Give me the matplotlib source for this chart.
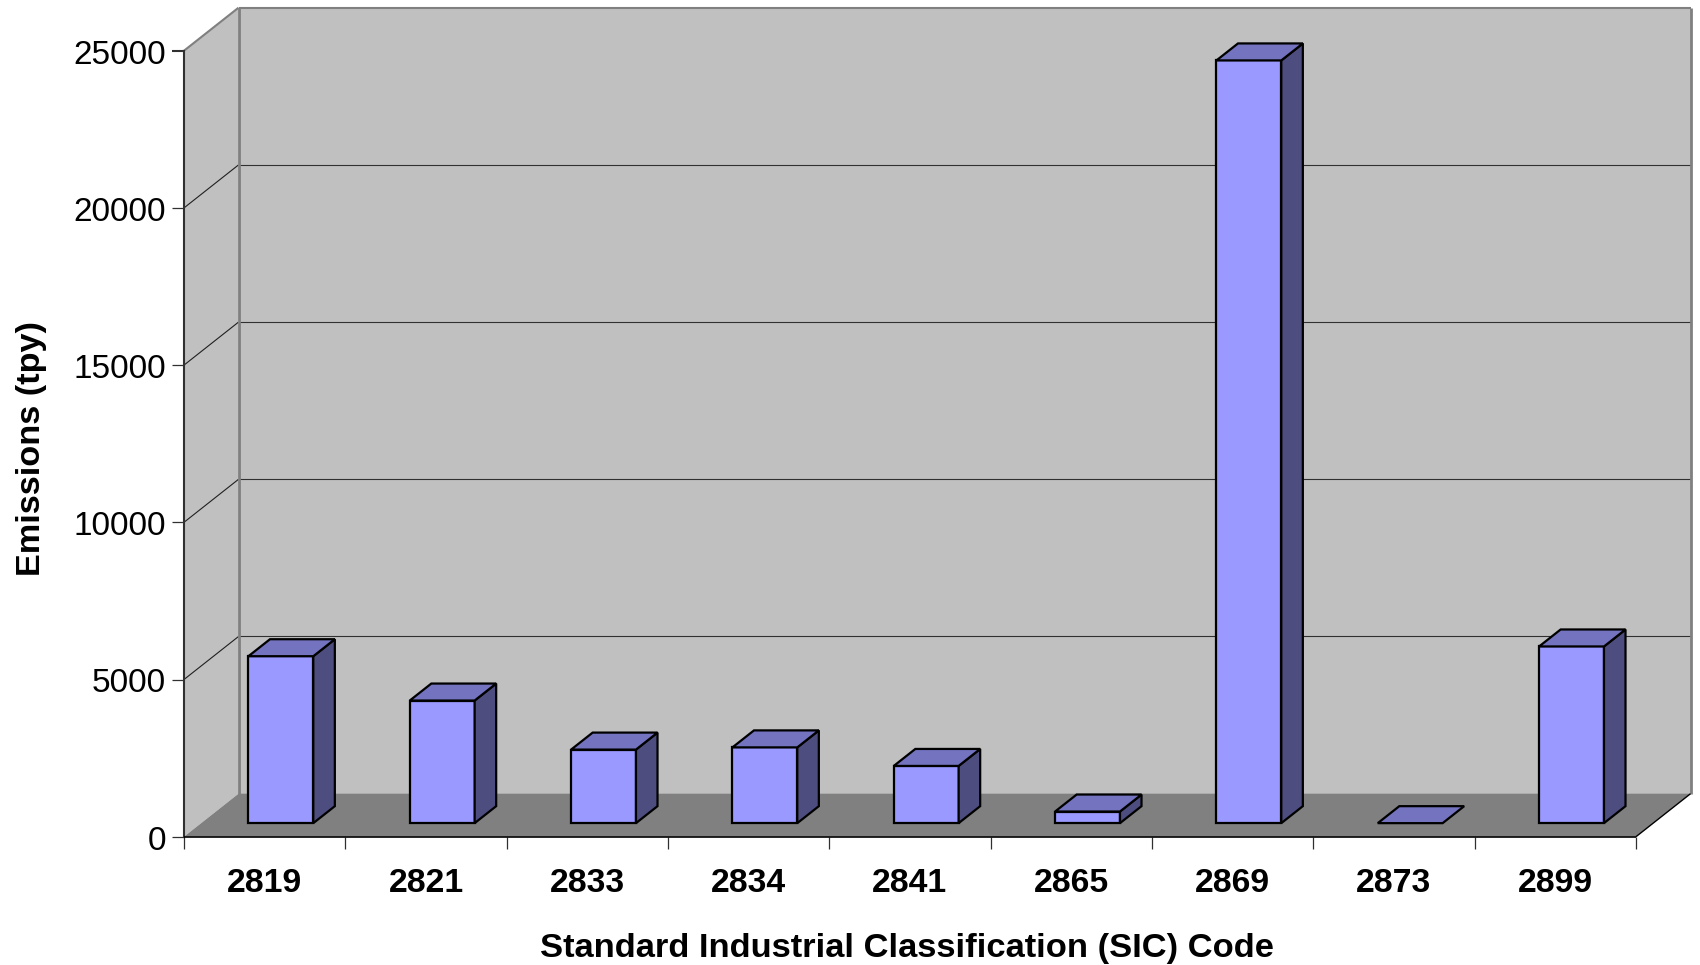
import matplotlib
matplotlib.use('Agg')
import matplotlib.pyplot as plt
from matplotlib.patches import Polygon
from matplotlib.transforms import ScaledTranslation

plt.rcParams['font.family'] = ['Liberation Sans', 'DejaVu Sans']

sic_codes = ['2819', '2821', '2833', '2834', '2841', '2865', '2869', '2873', '2899']
emissions = [5310, 3900, 2340, 2410, 1820, 370, 24260, 0, 5620]
y_ticks = [0, 5000, 10000, 15000, 20000, 25000]

WALL = '#C0C0C0'
FLOOR = '#808080'
FRONT = '#9999FF'
TOP = '#7373BF'
SIDE = '#4D4D80'

# oblique offset of the back wall, in data units (categories, tpy)
DEPTH_X = 0.338
DEPTH_Y = 1368
BAR_WIDTH = 0.402
BAR_SHIFT = -0.006
BAR_NEAR = 0.315
BAR_FAR = 0.71


def proj(x, y, d):
    return (x + d * DEPTH_X, y + d * DEPTH_Y)


def face(ax, pts, color, zorder=1, ec='none', lw=0):
    ax.add_patch(Polygon(pts, closed=True, facecolor=color, edgecolor=ec, linewidth=lw,
                         joinstyle='miter', clip_on=False, zorder=zorder))


def line(ax, p, q, color, lw, zorder=2):
    ax.plot([p[0], q[0]], [p[1], q[1]], color=color, lw=lw, clip_on=False,
            zorder=zorder, solid_capstyle='butt')


fig = plt.figure(figsize=(17, 9.65), dpi=100)
ax = fig.add_axes([184 / 1700, 1 - 836.7 / 965, (1636 - 184) / 1700, (836.7 - 50.7) / 965])
n = len(sic_codes)
ymax = y_ticks[-1]
ax.set_xlim(0, n)
ax.set_ylim(0, ymax)

# walls and floor
face(ax, [proj(0, 0, 0), proj(0, ymax, 0), proj(0, ymax, 1), proj(0, 0, 1)], WALL)
face(ax, [proj(0, 0, 1), proj(0, ymax, 1), proj(n, ymax, 1), proj(n, 0, 1)], WALL)
face(ax, [proj(0, 0, 0), proj(0, 0, 1), proj(n, 0, 1), proj(n, 0, 0)], FLOOR)

for v in y_ticks[1:-1]:
    line(ax, proj(0, v, 0), proj(0, v, 1), '#202020', 0.8)
    line(ax, proj(0, v, 1), proj(n, v, 1), '#303030', 0.8)

line(ax, proj(0, ymax, 0), proj(0, ymax, 1), FLOOR, 1.5)
line(ax, proj(0, ymax, 1), proj(n, ymax, 1), FLOOR, 1.5)
line(ax, proj(0, 0, 1), proj(0, ymax, 1), FLOOR, 2)
line(ax, proj(n, 0, 1), proj(n, ymax, 1), FLOOR, 2)
line(ax, proj(n, 0, 0), proj(n, 0, 1), 'black', 1)
line(ax, proj(0, 0, 0), proj(n, 0, 0), 'black', 1.2, zorder=3)

# 3d columns
for i, v in enumerate(emissions):
    x0 = i + (1 - BAR_WIDTH) / 2 + BAR_SHIFT
    x1 = x0 + BAR_WIDTH
    z = 3 + i * 0.01
    if v > 0:
        face(ax, [proj(x0, 0, BAR_NEAR), proj(x0, v, BAR_NEAR), proj(x1, v, BAR_NEAR), proj(x1, 0, BAR_NEAR)],
             FRONT, z, 'black', 1.6)
        face(ax, [proj(x1, 0, BAR_NEAR), proj(x1, v, BAR_NEAR), proj(x1, v, BAR_FAR), proj(x1, 0, BAR_FAR)],
             SIDE, z, 'black', 1.6)
    face(ax, [proj(x0, v, BAR_NEAR), proj(x0, v, BAR_FAR), proj(x1, v, BAR_FAR), proj(x1, v, BAR_NEAR)],
         TOP, z, 'black', 1.6)

for s in ['top', 'right', 'bottom']:
    ax.spines[s].set_visible(False)
ax.spines['left'].set_color('#303030')
ax.spines['left'].set_linewidth(1.5)
ax.spines['left'].set_zorder(2.5)

ax.set_yticks(y_ticks)
ax.set_yticklabels([str(v) for v in y_ticks], fontsize=24)
ax.tick_params(axis='y', length=8.6, width=0.9, color='#303030', pad=4.5)
ax.yaxis.get_major_ticks()[-1].tick1line.set_color(FLOOR)
ax.yaxis.get_major_ticks()[-1].tick1line.set_markeredgewidth(1.5)

ax.set_xticks(range(n + 1))
ax.set_xticklabels([])
ax.set_xticks([i + 0.5 for i in range(n)], minor=True)
ax.set_xticklabels(sic_codes, minor=True, fontsize=24.3, fontweight='bold')
ax.tick_params(axis='x', which='major', length=8.6, width=0.9, color='#303030')
ax.tick_params(axis='x', which='minor', length=0, pad=22.7)

# nudge the value labels down a pixel
nudge = ScaledTranslation(0, -1 / 100, fig.dpi_scale_trans)
for lab in ax.get_yticklabels():
    lab.set_transform(lab.get_transform() + nudge)

fig.text(907 / 1700, 1 - 948 / 965, 'Standard Industrial Classification (SIC) Code',
         fontsize=24.8, fontweight='bold', ha='center', va='center')
fig.text(32 / 1700, 1 - 449 / 965, 'Emissions (tpy)', fontsize=24.7, fontweight='bold',
         rotation=90, ha='center', va='center')

fig.savefig('out.png', dpi=100, facecolor='white')
